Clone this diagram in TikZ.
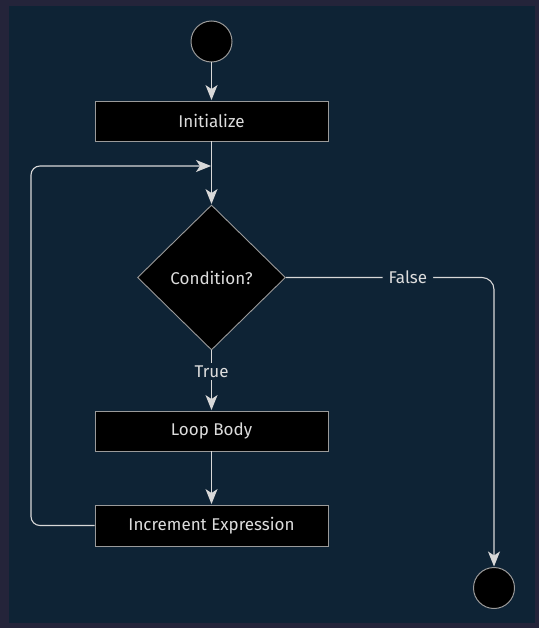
\documentclass[tikz,border=0pt]{standalone}
\usepackage{fontspec}
\setmainfont{Fira Sans}
\usetikzlibrary{shapes.geometric,arrows.meta}
\definecolor{outerbg}{HTML}{24243A}
\definecolor{panelbg}{HTML}{0E2335}
\definecolor{linecol}{HTML}{D8D8D8}
\definecolor{bordercol}{HTML}{9A9A9A}
\definecolor{textcol}{HTML}{DDDDDD}
\tikzset{
  txt/.style={text=textcol, font=\fontsize{17}{19}\selectfont},
  box/.style={txt, draw=bordercol, line width=0.9pt, fill=black, minimum width=233pt, minimum height=40pt, inner sep=0pt},
  startstop/.style={circle, draw=bordercol, line width=1pt, fill=black, minimum size=41pt, inner sep=0pt},
  decision/.style={txt, diamond, draw=bordercol, line width=0.9pt, fill=black, minimum width=148pt, minimum height=145pt, inner sep=0pt},
  conn/.style={draw=linecol, line width=1.1pt},
  arr/.style={conn, -{Stealth[length=15pt, width=12pt, inset=4pt]}, shorten >=0.5pt},
  lbl/.style={txt, fill=panelbg, inner xsep=6pt, inner ysep=3pt}
}
\begin{document}
\begin{tikzpicture}[x=1pt, y=-1pt]
\useasboundingbox (0,0) rectangle (539,628);
\fill[outerbg] (0,0) rectangle (539,628);
\fill[panelbg] (9,6) rectangle (535,623);

\node[startstop] (start) at (211.5,41.5) {};
\node[box] (init) at (211.5,121) {Initialize};
\coordinate (join) at (211.5,166);
\node[decision] (cond) at (211.5,277.5) {Condition?};
\node[box] (body) at (211.5,431) {Loop Body};
\node[box, minimum height=41pt] (incr) at (211.5,525.5) {Increment Expression};
\node[startstop] (stop) at (494,588) {};
\coordinate (lcorner1) at (31,525.5);
\coordinate (lcorner2) at (31,166);
\coordinate (rcorner) at (494,277.5);

\draw[arr] (start) -- (init);
\draw[conn] (init.south) -- (join);
\draw[arr] (join) -- (cond.north);
\draw[arr, rounded corners=9pt] (incr.west) -- (lcorner1) -- (lcorner2) -- (join);
\draw[arr] (cond.south) -- node[lbl, pos=0.35] (truelbl) {True} (body.north);
\draw[arr] (body) -- (incr);
\draw[arr, rounded corners=12pt] (cond.east) -- node[lbl, pos=0.586] (falselbl) {False} (rcorner) -- (stop.north);
\end{tikzpicture}
\end{document}
